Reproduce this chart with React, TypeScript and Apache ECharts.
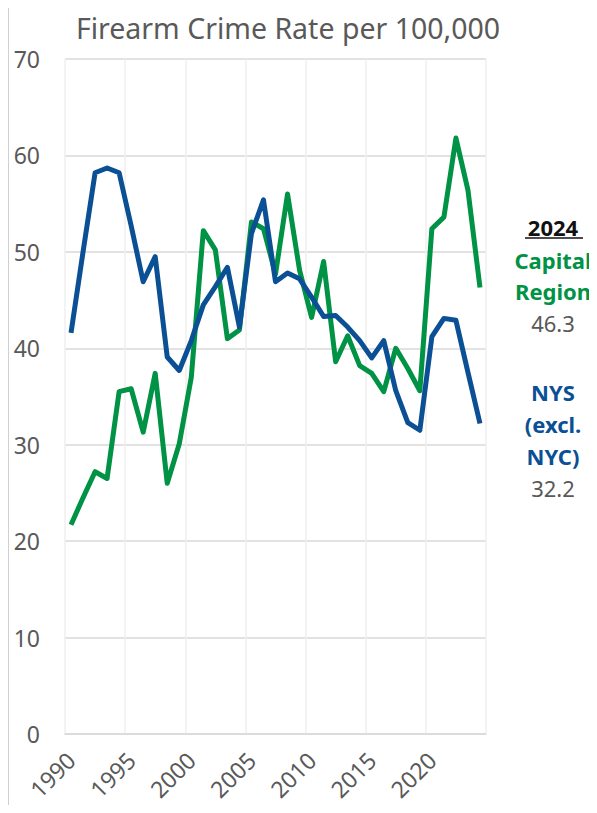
import React, { useEffect, useRef } from "react";
import * as echarts from "echarts";

const years: string[] = [];
for (let y = 1990; y <= 2024; y++) years.push(String(y));

const capitalRegion = [
  21.7, 24.5, 27.2, 26.5, 35.5, 35.8, 31.3, 37.4, 26.0, 30.1,
  37.0, 52.2, 50.2, 41.0, 41.9, 53.1, 52.4, 47.7, 56.0, 48.1,
  43.2, 49.0, 38.6, 41.3, 38.2, 37.4, 35.5, 40.0, 37.9, 35.6,
  52.4, 53.6, 61.8, 56.4, 46.3,
];

const nysExclNyc = [
  41.6, 50.0, 58.2, 58.7, 58.2, 52.7, 46.9, 49.5, 39.1, 37.7,
  40.8, 44.5, 46.4, 48.4, 42.2, 51.9, 55.4, 46.9, 47.8, 47.2,
  45.3, 43.3, 43.4, 42.2, 40.8, 39.0, 40.8, 35.6, 32.3, 31.5,
  41.2, 43.1, 42.9, 37.5, 32.2,
];

const GREEN = "#009245";
const BLUE = "#0B4F94";
const GREY = "#595959";
const FONT = "Noto Sans";

export default function App() {
  const ref = useRef<HTMLDivElement>(null);
  useEffect(() => {
    if (!ref.current) return;
    const chart = echarts.init(ref.current, null, { renderer: "svg" });
    const cx = 553;
    const ann = (text: string, y: number, color: string, bold: boolean) => ({
      type: "text",
      x: cx,
      y,
      style: {
        text,
        fill: color,
        font: `${bold ? "bold " : ""}22px "${FONT}"`,
        textAlign: "center",
        textVerticalAlign: "middle",
      },
    });
    chart.setOption({
      animation: false,
      backgroundColor: "#ffffff",
      title: {
        text: "Firearm Crime Rate per 100,000",
        left: 283,
        top: 23,
        textAlign: "center",
        textVerticalAlign: "middle",
        textStyle: { color: GREY, fontSize: 28.5, fontWeight: "normal", fontFamily: FONT },
      },
      grid: { left: 65, right: 111, top: 59, bottom: 79, containLabel: false },
      xAxis: {
        type: "category",
        data: years,
        boundaryGap: true,
        axisLine: { show: true, lineStyle: { color: "#d9d9d9", width: 1.5 } },
        axisTick: { show: false, interval: 4 },
        axisLabel: {
          interval: 4,
          rotate: 45,
          margin: 22,
          color: GREY,
          fontSize: 23,
          fontFamily: FONT,
        },
        splitLine: { show: true, interval: 4, lineStyle: { color: "#efefef", width: 1.5 } },
      },
      yAxis: {
        type: "value",
        min: 0,
        max: 70,
        interval: 10,
        axisLine: { show: false },
        axisTick: { show: false },
        axisLabel: { color: GREY, fontSize: 23, fontFamily: FONT, margin: 25 },
        splitLine: { show: true, lineStyle: { color: "#d9d9d9", width: 1.5 } },
      },
      series: [
        {
          name: "Capital Region",
          type: "line",
          data: capitalRegion,
          symbol: "none",
          lineStyle: { color: GREEN, width: 5, join: "round" },
          itemStyle: { color: GREEN },
          z: 2,
        },
        {
          name: "NYS (excl. NYC)",
          type: "line",
          data: nysExclNyc,
          symbol: "none",
          lineStyle: { color: BLUE, width: 5, join: "round" },
          itemStyle: { color: BLUE },
          z: 3,
        },
      ],
      graphic: [
        {
          type: "line",
          shape: { x1: 8.5, y1: 0, x2: 8.5, y2: 813 },
          style: { stroke: "#d0d0d0", lineWidth: 1 },
        },
        ann("2024", 227, "#111111", true),
        {
          type: "line",
          shape: { x1: 525, y1: 238, x2: 583, y2: 238 },
          style: { stroke: "#111111", lineWidth: 1.5 },
        },
        ann("Capital", 260, GREEN, true),
        ann("Region", 291, GREEN, true),
        ann("46.3", 323, GREY, false),
        ann("NYS", 392, BLUE, true),
        ann("(excl.", 424, BLUE, true),
        ann("NYC)", 456, BLUE, true),
        ann("32.2", 488, GREY, false),
      ],
    });
    return () => chart.dispose();
  }, []);
  return <div ref={ref} style={{ width: 597, height: 813, margin: -8 }} />;
}
